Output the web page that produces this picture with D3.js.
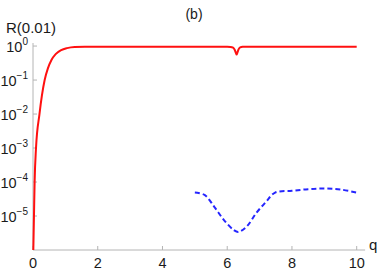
<!DOCTYPE html>
<html>
<head>
<meta charset="utf-8">
<script src="https://cdn.jsdelivr.net/npm/d3@7"></script>
<style>
  html, body { margin: 0; padding: 0; background: #fff; }
  svg { display: block; }
  text { font-family: "Liberation Sans", Arial, sans-serif; fill: #1a1a1a; }
</style>
</head>
<body>
<svg id="chart" width="382" height="273"></svg>
<script>
// ---- data ----
const title = "(b)";
const yLabel = "R(0.01)";
const xLabel = "q";
const xTicks = [0, 2, 4, 6, 8, 10];
const yTickExponents = [0, -1, -2, -3, -4, -5];

// red solid curve R(0.01) vs q
const redQ = [0.01, 0.03, 0.05, 0.093, 0.2, 0.36, 0.46, 0.57, 0.7, 0.87, 1.05, 1.29, 1.6, 2.5, 4, 5.5, 6.0, 6.1, 6.18, 6.23, 6.27, 6.29, 6.31, 6.35, 6.40, 6.48, 6.56, 7, 8, 9, 10];
const redR = [1e-6, 1e-5, 1e-4, 1e-3, 1e-2, 0.1, 0.22, 0.39, 0.58, 0.76, 0.87, 0.94, 0.955, 0.958, 0.958, 0.958, 0.956, 0.945, 0.90, 0.78, 0.62, 0.56, 0.62, 0.80, 0.91, 0.95, 0.957, 0.958, 0.958, 0.958, 0.958];

// blue dashed curve
const blueQ = [5.0, 5.3, 5.6, 5.9, 6.2, 6.34, 6.6, 6.9, 7.2, 7.48, 8.0, 8.5, 9.0, 9.5, 10.0];
const blueLog = [-4.31, -4.38, -4.73, -5.12, -5.41, -5.47, -5.31, -4.91, -4.58, -4.31, -4.26, -4.21, -4.19, -4.22, -4.31];

// ---- drawing ----
const svg = d3.select("#chart");
const x = d3.scaleLinear().domain([0, 10]).range([33, 356.7]);
const y = d3.scaleLog().domain([1e-6, Math.pow(10, 0.09)]).range([250, 43]);
const axisColor = "#b4b4b4";

const clip = svg.append("defs").append("clipPath").attr("id", "plotclip")
  .append("rect").attr("x", 20).attr("y", 30).attr("width", 350).attr("height", 220);

// axes lines
svg.append("line").attr("x1", x(0)).attr("x2", x(10.26)).attr("y1", 250).attr("y2", 250)
  .attr("stroke", axisColor).attr("stroke-width", 1);
svg.append("line").attr("x1", x(0)).attr("x2", x(0)).attr("y1", 250).attr("y2", y(Math.pow(10, 0.09)))
  .attr("stroke", axisColor).attr("stroke-width", 1);

// x ticks
const gx = svg.append("g");
xTicks.forEach(t => {
  gx.append("line").attr("x1", x(t)).attr("x2", x(t)).attr("y1", 250).attr("y2", 246)
    .attr("stroke", axisColor).attr("stroke-width", 1);
  gx.append("text").attr("x", x(t)).attr("y", 268).attr("text-anchor", "middle")
    .attr("font-size", 14.5).text(t);
});

// y ticks
const gy = svg.append("g");
yTickExponents.forEach(e => {
  const yy = y(Math.pow(10, e));
  gy.append("line").attr("x1", 33).attr("x2", 37).attr("y1", yy).attr("y2", yy)
    .attr("stroke", axisColor).attr("stroke-width", 1);
  const t = gy.append("text").attr("x", 28).attr("y", yy + 6).attr("text-anchor", "end")
    .attr("font-size", 14.5);
  t.append("tspan").text("10");
  t.append("tspan").attr("dy", -7).attr("font-size", 10)
    .text(e === 0 ? "0" : "\u2212" + Math.abs(e));
});

// curves
const plot = svg.append("g").attr("clip-path", "url(#plotclip)");
const redData = redQ.map((q, i) => [q, redR[i]]);
plot.append("path").datum(redData)
  .attr("d", d3.line().x(d => x(d[0])).y(d => y(d[1])).curve(d3.curveMonotoneX))
  .attr("fill", "none").attr("stroke", "#ff1010").attr("stroke-width", 2);

const blueData = blueQ.map((q, i) => [q, Math.pow(10, blueLog[i])]);
plot.append("path").datum(blueData)
  .attr("d", d3.line().x(d => x(d[0])).y(d => y(d[1])).curve(d3.curveCatmullRom))
  .attr("fill", "none").attr("stroke", "#2525ff").attr("stroke-width", 2)
  .attr("stroke-dasharray", "5,3");

// labels
svg.append("text").attr("x", 194).attr("y", 19).attr("text-anchor", "middle")
  .attr("font-size", 14).text(title);
svg.append("text").attr("x", 6).attr("y", 33).attr("font-size", 15).text(yLabel);
svg.append("text").attr("x", 369).attr("y", 250).attr("font-size", 15).text(xLabel);
</script>
</body>
</html>
